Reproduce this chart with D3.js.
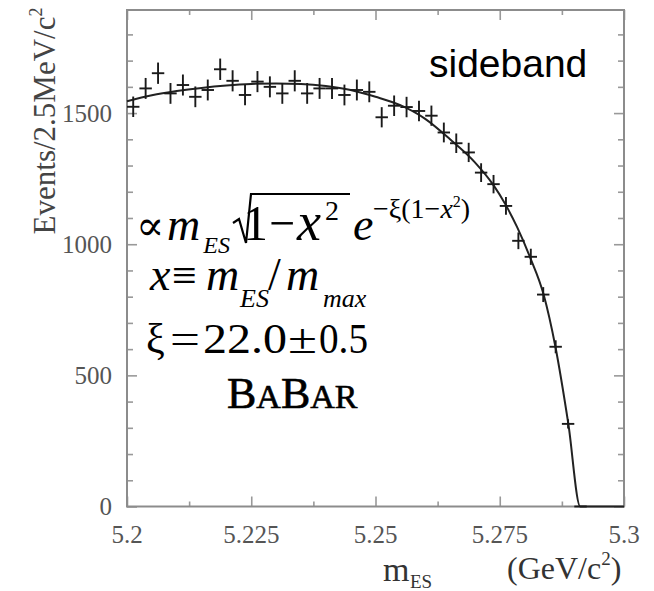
<!DOCTYPE html>
<html>
<head>
<meta charset="utf-8">
<script src="https://cdn.jsdelivr.net/npm/d3@7"></script>
<style>
  body { margin: 0; background: #fff; }
  svg { display: block; }
  .serif { font-family: "Liberation Serif", "Times New Roman", "DejaVu Serif", serif; }
</style>
</head>
<body>
<div id="chart"></div>
<script>
// m_ES bin centres (GeV/c^2), 2.5 MeV bins
const massBins = [
  5.20125, 5.20375, 5.20625, 5.20875, 5.21125, 5.21375, 5.21625, 5.21875,
  5.22125, 5.22375, 5.22625, 5.22875, 5.23125, 5.23375, 5.23625, 5.23875,
  5.24125, 5.24375, 5.24625, 5.24875, 5.25125, 5.25375, 5.25625, 5.25875,
  5.26125, 5.26375, 5.26625, 5.26875, 5.27125, 5.27375, 5.27625, 5.27875,
  5.28125, 5.28375, 5.28625, 5.28875, 5.29125
];
// events per bin
const events = [
  1524, 1594, 1652, 1575, 1607, 1562, 1588, 1667,
  1623, 1569, 1620, 1600, 1575, 1623, 1575, 1594,
  1594, 1569, 1588, 1581, 1484, 1528, 1523, 1508,
  1490, 1426, 1385, 1350, 1273, 1229, 1146, 1013,
  952, 808, 609, 315, 0
];
const binWidth = 0.0025;

// fitted ARGUS curve
const fitMass = [5.200, 5.205, 5.210, 5.215, 5.220, 5.225, 5.230, 5.235, 5.240, 5.245,
  5.250, 5.255, 5.260, 5.265, 5.270, 5.2737, 5.2762, 5.2785, 5.2811, 5.2838,
  5.2862, 5.2888, 5.2912, 5.300];
const fitEvents = [1545, 1568, 1584, 1596, 1605, 1611, 1613, 1611, 1603, 1588,
  1562, 1530, 1478, 1400, 1312, 1226, 1150, 1065, 950, 810,
  609, 315, 0, 0];

const xMajor = [5.2, 5.225, 5.25, 5.275, 5.3];
const xMajorLabels = ['5.2', '5.225', '5.25', '5.275', '5.3'];
const xMinor = [5.2125, 5.2375, 5.2625, 5.2875];
const yMajor = [0, 500, 1000, 1500];
const yMinor = [100, 200, 300, 400, 600, 700, 800, 900, 1100, 1200, 1300, 1400, 1600, 1700, 1800];

const width = 654, height = 591;
const plot = { left: 127, right: 624, top: 10, bottom: 506.5 };

const svg = d3.select('#chart').append('svg')
  .attr('width', width).attr('height', height)
  .attr('viewBox', `0 0 ${width} ${height}`);

const x = d3.scaleLinear().domain([5.2, 5.3]).range([plot.left, plot.right]);
const y = d3.scaleLinear().domain([0, 1893]).range([plot.bottom, plot.top]);

// ---- frame + inward ticks on all four sides
const gAxes = svg.append('g').attr('stroke', '#999').attr('fill', 'none');

function ticks(axisFn, scale, values, size, translate) {
  const g = gAxes.append('g')
    .attr('transform', translate)
    .call(axisFn(scale).tickValues(values).tickSize(-size).tickFormat(''));
  g.select('.domain').remove();
  g.selectAll('line').attr('stroke', '#999').attr('stroke-width', 1.6);
}
ticks(d3.axisBottom, x, xMajor, 10, `translate(0,${plot.bottom})`);
ticks(d3.axisBottom, x, xMinor, 5, `translate(0,${plot.bottom})`);
ticks(d3.axisTop, x, xMajor, 10, `translate(0,${plot.top})`);
ticks(d3.axisTop, x, xMinor, 5, `translate(0,${plot.top})`);
ticks(d3.axisLeft, y, yMajor, 10, `translate(${plot.left},0)`);
ticks(d3.axisLeft, y, yMinor, 6, `translate(${plot.left},0)`);
ticks(d3.axisRight, y, yMajor, 10, `translate(${plot.right},0)`);
ticks(d3.axisRight, y, yMinor, 6, `translate(${plot.right},0)`);

gAxes.append('rect')
  .attr('x', plot.left).attr('y', plot.top)
  .attr('width', plot.right - plot.left).attr('height', plot.bottom - plot.top)
  .attr('stroke', '#8c8c8c').attr('stroke-width', 2);

// ---- tick labels
svg.append('g').attr('class', 'serif')
  .selectAll('text').data(xMajor).join('text')
  .attr('x', d => x(d)).attr('y', 543)
  .attr('text-anchor', 'middle').attr('font-size', 25).attr('fill', '#555')
  .text((d, i) => xMajorLabels[i]);

svg.append('g').attr('class', 'serif')
  .selectAll('text').data(yMajor).join('text')
  .attr('x', 112).attr('y', d => y(d) + 8.5)
  .attr('text-anchor', 'end').attr('font-size', 25).attr('fill', '#555')
  .text(d => d);

// ---- axis titles
const yTitle = svg.append('text').attr('class', 'serif')
  .attr('transform', 'translate(55,121) rotate(-90)')
  .attr('text-anchor', 'middle').attr('font-size', 31).attr('fill', '#444');
yTitle.append('tspan').text('Events/2.5MeV/c');
yTitle.append('tspan').attr('font-size', 18).attr('dy', -13).text('2');

const xTitle = svg.append('g').attr('class', 'serif').attr('fill', '#333');
xTitle.append('text').attr('x', 383).attr('y', 581).attr('font-size', 34).text('m');
xTitle.append('text').attr('x', 410).attr('y', 588).attr('font-size', 19).text('ES');
const unit = xTitle.append('text').attr('x', 507).attr('y', 579).attr('font-size', 32);
unit.append('tspan').text('(GeV/c');
unit.append('tspan').attr('font-size', 19).attr('dy', -14).text('2');
unit.append('tspan').attr('dy', 14).text(')');

// ---- fit curve
const line = d3.line()
  .x((d, i) => x(fitMass[i]))
  .y(d => y(d))
  .curve(d3.curveMonotoneX);

svg.append('path')
  .datum(fitEvents)
  .attr('d', line)
  .attr('fill', 'none').attr('stroke', '#222').attr('stroke-width', 2);

// ---- data points with error bars
const pts = svg.append('g').attr('stroke', '#1a1a1a').attr('stroke-width', 1.9);
const data = massBins.map((m, i) => ({ m, n: events[i], err: Math.sqrt(events[i]) }));

pts.selectAll('line.v').data(data).join('line').attr('class', 'v')
  .attr('x1', d => x(d.m)).attr('x2', d => x(d.m))
  .attr('y1', d => y(d.n - d.err)).attr('y2', d => y(d.n + d.err));
pts.selectAll('line.h').data(data).join('line').attr('class', 'h')
  .attr('x1', d => x(d.m - binWidth / 2)).attr('x2', d => x(d.m + binWidth / 2))
  .attr('y1', d => y(d.n)).attr('y2', d => y(d.n));

// ---- annotations
svg.append('text')
  .attr('x', 429).attr('y', 77)
  .attr('font-family', '"Liberation Sans", Arial, sans-serif')
  .attr('font-size', 39).attr('fill', '#000')
  .text('sideband');

const f = svg.append('g').attr('class', 'serif').attr('fill', '#000');
function put(t, px, py, size, italic, len) {
  const el = f.append('text').attr('x', px).attr('y', py)
    .attr('font-size', size)
    .attr('font-style', italic ? 'italic' : 'normal')
    .text(t);
  if (len) el.attr('textLength', len).attr('lengthAdjust', 'spacingAndGlyphs');
  return el;
}

// line 1:  ∝ m_ES √(1−x²) e^{−ξ(1−x²)}
put('\u221D', 136, 240, 42, false);
const mES = f.append('text').attr('x', 167).attr('y', 240)
  .attr('font-size', 46).attr('font-style', 'italic');
mES.append('tspan').text('m');
mES.append('tspan').attr('font-size', 24).attr('dx', 3).attr('dy', 13).text('ES');
f.append('path')
  .attr('d', 'M233,223 L239,219 L246,243 L251,194 L350,194')
  .attr('fill', 'none').attr('stroke', '#000').attr('stroke-width', 2.2);
put('1', 243, 240, 50, false);
put('\u2212', 269, 240, 50, false, 26);
put('x', 297, 240, 54, true);
put('2', 325, 220, 28, false);
put('e', 353, 240, 46, true);
const ex = f.append('text').attr('x', 373).attr('y', 218).attr('font-size', 28);
ex.append('tspan').text('\u2212\u03BE(1\u2212');
ex.append('tspan').attr('font-style', 'italic').text('x');
ex.append('tspan').attr('font-size', 16).attr('dy', -11).text('2');
ex.append('tspan').attr('dy', 11).text(')');

// line 2:  x ≡ m_ES / m_max
put('x', 150, 290, 46, true);
put('\u2261', 172, 290, 44, false);
put('m', 206, 290, 46, true);
put('ES', 240, 307, 26, true);
put('/', 268, 290, 46, false);
put('m', 286, 290, 46, true);
put('max', 323, 307, 26, true);

// line 3:  ξ = 22.0 ± 0.5
put('\u03BE', 146, 353, 42, false);
put('=', 170, 353, 42, false, 30);
put('22.0', 203, 353, 42, false, 84);
put('\u00B1', 288, 353, 42, false, 29);
put('0.5', 319, 353, 42, false, 49);

// BABAR logo
const bb = f.append('text').attr('x', 227).attr('y', 408).attr('font-size', 44)
  .attr('stroke', '#000').attr('stroke-width', 0.6);
bb.append('tspan').text('B');
bb.append('tspan').attr('font-size', 34).text('A');
bb.append('tspan').text('B');
bb.append('tspan').attr('font-size', 34).text('AR');
</script>
</body>
</html>
